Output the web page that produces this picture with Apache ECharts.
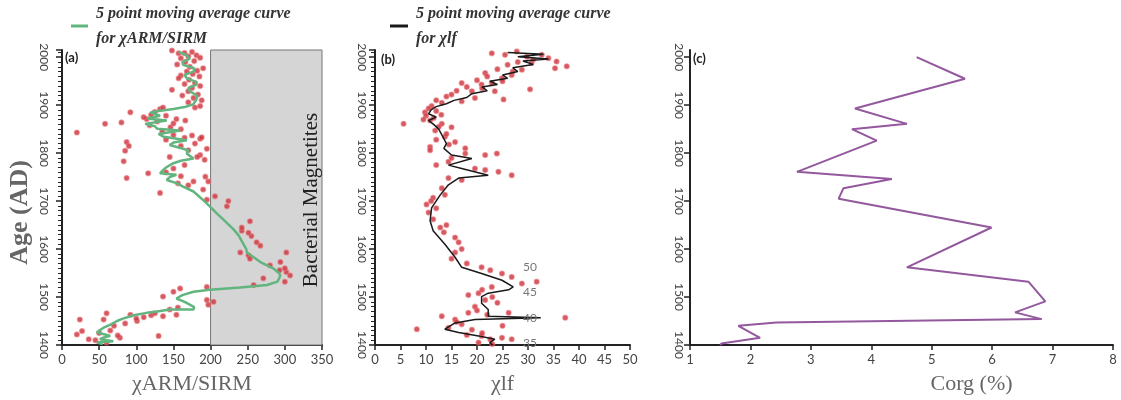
<!DOCTYPE html>
<html>
<head>
<meta charset="utf-8">
<script src="https://cdn.jsdelivr.net/npm/echarts@6/dist/echarts.min.js"></script>
<style>
  html, body { margin: 0; padding: 0; background: #fff; }
  #chart { width: 1121px; height: 400px; }
</style>
</head>
<body>
<div id="chart"></div>
<script>
// age axis ticks (AD)
const ageMin = 1400
const ageMax = 2015
const ageStep = 100

// (a) chiARM/SIRM measurements [value, age]
const armPoints = [
  [148,2014],[157,2008],[175,2011],[181,2004],[165,2009],[170,2002],[160,1998],[186,1999],[178,1992],[166,1990],
  [155,1985],[190,1977],[172,1980],[182,1972],[168,1970],[176,1965],[160,1962],[185,1960],[157,1956],[171,1953],
  [179,1946],[165,1944],[186,1940],[175,1936],[148,1932],[170,1929],[183,1922],[162,1920],[177,1915],[188,1910],
  [170,1906],[186,1898],[179,1895],
  [92,1885],[58,1861],[80,1864],[20,1843],[87,1823],[132,1892],[154,1871],[136,1895],[114,1871],[166,1868],
  [146,1854],[175,1837],[186,1830],[179,1820],[120,1880],[125,1886],[110,1875],[140,1878],[128,1866],[118,1858],
  [150,1862],[160,1850],[135,1845],[150,1838],[165,1832],[140,1828],[188,1833],[195,1809],[186,1796],[160,1815],
  [170,1806],[85,1805],[90,1815],
  [83,1783],[87,1748],[116,1758],[132,1717],[192,1786],[190,1724],[206,1710],[222,1689],[145,1792],[156,1737],
  [193,1751],[195,1703],[182,1792],[177,1741],[165,1775],[150,1768],[140,1760],[160,1752],[170,1733],[197,1741],
  [253,1658],[242,1638],[255,1627],[267,1607],[224,1700],[242,1645],[251,1634],[262,1614],[240,1593],[251,1587],
  [253,1580],[302,1593],[280,1566],[294,1573],[302,1552],[307,1545],[300,1532],[271,1539],[258,1525],[195,1521],
  [150,1511],[159,1518],[136,1501],[195,1494],[204,1490],[197,1484],[293,1556],[300,1560],[145,1474],[156,1478],
  [60,1466],[92,1463],[101,1450],[56,1453],[24,1453],[27,1429],[20,1422],[36,1412],[78,1415],[130,1419],
  [136,1460],[154,1463],[110,1458],[120,1462],[85,1445],[70,1440],[65,1430],[50,1425],[45,1410],[60,1405],
  [75,1420],[125,1466],[100,1455]
]

// (a) 5 point moving average [value, age]
const armCurve = [
  [157,2011],[168,2004],[172,1997],[162,1990],[163,1984],[178,1977],[177,1970],[165,1963],[168,1956],[180,1949],
  [181,1943],[170,1936],[172,1929],[182,1920],[181,1912],[177,1902],[165,1896],[150,1892],[130,1888],[119,1885],
  [132,1878],[115,1872],[141,1868],[112,1861],[125,1856],[128,1851],[159,1847],[130,1840],[137,1834],[168,1827],
  [150,1822],[145,1817],[145,1813],[170,1806],[168,1799],[177,1789],[160,1784],[150,1779],[140,1770],[135,1763],
  [132,1758],[154,1755],[145,1750],[141,1744],[155,1737],[163,1730],[177,1720],[188,1705],[199,1689],[208,1675],
  [217,1662],[225,1650],[231,1641],[238,1628],[243,1614],[248,1600],[249,1593],[258,1583],[267,1573],[276,1566],
  [285,1559],[292,1550],[294,1545],[292,1538],[290,1532],[276,1525],[240,1520],[199,1515],[177,1511],[162,1504],
  [154,1497],[165,1490],[172,1484],[178,1479],[177,1474],[145,1474],[128,1470],[114,1467],[100,1463],[92,1460],
  [82,1455],[74,1450],[66,1443],[56,1436],[50,1430],[47,1426],[58,1422],[65,1419],[55,1415],[51,1412],
  [69,1408],[47,1405],[55,1402]
]
const bacterialRange = [200, 350]

// (b) chi-lf measurements [value, age]
const chiPoints = [
  [22.9,2008],[25.5,2005],[27.8,2012],[29.8,2001],[32.7,2005],[34,1998],[35.6,1991],[37.6,1981],[35.3,1977],[30.7,1988],
  [28.8,1974],[26.8,1963],[30.4,1933],[24.9,1956],[22.9,1946],[20.9,1943],[19,1929],[17,1946],[19.6,1915],[17,1908],
  [15,1922],[13.1,1905],[11.1,1898],[9.8,1885],[5.6,1861],[10.8,1868],[13.1,1861],[11.8,1847],[15,1854],[13.7,1834],
  [15.7,1823],[10.8,1813],[17.7,1810],[23.5,1929],[25.2,1912],[21.6,1967],
  [31,1995],[28,1990],[26,1984],[24,1975],[27,1970],[22,1960],[25,1950],[20,1952],[18,1938],[21,1935],
  [16,1930],[14,1918],[12,1910],[10.5,1893],[12,1888],[10,1878],[11.5,1873],[13,1880],[9.5,1870],[12.5,1855],
  [14,1840],[12,1828],[14.5,1818],
  [10.8,1806],[17.7,1799],[21.6,1796],[23.9,1799],[14.4,1782],[19.6,1768],[21.6,1765],[24.2,1761],[26.8,1754],[14.4,1748],
  [17,1744],[13.1,1727],[13.7,1713],[11.4,1707],[10.1,1693],[10.5,1676],[11.4,1662],[12.8,1645],[15.7,1624],[16.4,1614],
  [15,1580],[15.7,1593],[20.9,1562],[22.6,1556],[24.9,1549],[26.8,1542],[28.8,1528],[31.7,1532],[22.9,1521],[20.3,1508],
  [18.3,1504],[21.6,1494],[19.6,1480],[18.3,1467],[15.7,1453],[13.1,1460],[26.2,1467],[37.3,1457],[17,1443],[14.4,1436],
  [8.2,1433],[19,1432],[20.9,1419],[22.6,1412],[24.9,1415],[20.3,1405],[26.8,1412],
  [15,1790],[12,1775],[11,1700],[12,1685],[14,1650],[13.5,1635],[17,1600],[18,1570],[21,1515],[23,1500],
  [24,1488],[20,1472],[22,1463],[16,1448],[25,1440],[21,1425],[18,1421],[23,1402]
]

// (b) 5 point moving average [value, age]
const chiCurve = [
  [26,2010],[33,2006],[28,2001],[34,1996],[29,1992],[31,1985],[27,1978],[28,1970],[25,1963],[26,1956],
  [22.5,1950],[24,1943],[21,1938],[22,1930],[19,1924],[18,1916],[15.5,1910],[14,1903],[12,1897],[11,1890],
  [10.5,1882],[12,1875],[10.5,1868],[11.5,1860],[12.5,1850],[13,1840],[13.5,1830],[14,1820],[13.5,1810],[13.7,1806],
  [15,1796],[19,1789],[14.4,1775],[17,1768],[22.2,1754],[16.4,1748],[14.4,1734],[12.8,1713],[11.1,1686],[10.8,1659],
  [11.4,1638],[13.7,1610],[15.7,1583],[17,1562],[20.9,1549],[24.9,1535],[27.1,1521],[26.2,1515],[22.2,1508],[20.9,1501],
  [20.9,1487],[22.2,1474],[22.2,1460],[32.5,1457],[32.5,1453],[19.6,1453],[15.7,1446],[13.7,1433],[16.4,1426],[20.3,1419],
  [23.5,1412],[22.5,1405],[23,1400]
]
const strayLabels = ['50', '45', '40', '35']

// (c) organic carbon [value %, age]
const corgCurve = [
  [4.75,2000],[5.55,1955],[3.73,1893],[4.59,1861],[3.68,1850],[4.09,1826],[2.77,1761],[4.34,1746],[3.54,1727],[3.46,1705],
  [5.99,1645],[4.59,1562],[6.60,1532],[6.88,1491],[6.38,1468],[6.82,1454],[2.43,1447],[1.80,1440],[2.16,1415],[1.52,1403],
  [1.5,1400]
]

const armName = '5 point moving average curve for χARM/SIRM'
const chiName = '5 point moving average curve for χlf'

let chart = echarts.init(document.getElementById('chart'))

const nameFont = { fontFamily: 'Liberation Serif', fontSize: 22, color: '#666' }

// 通用坐标轴
function xAx (idx, min, max, step, name, extra) {
  return Object.assign({
    gridIndex: idx, type: 'value', min: min, max: max, interval: step,
    name: name, nameLocation: 'middle', nameGap: 28,
    nameTextStyle: nameFont,
    axisLine: { show: true, lineStyle: { color: '#222', width: 2 } },
    axisTick: { show: true, length: 5, lineStyle: { color: '#222', width: 1.5 } },
    axisLabel: { color: '#444', fontSize: 13, fontFamily: 'Lato', margin: 8 },
    splitLine: { show: false }
  }, extra || {})
}
function yAx (idx, minor, margin, extra) {
  return Object.assign({
    gridIndex: idx, type: 'value', min: ageMin, max: ageMax, interval: ageStep,
    axisLine: { show: true, lineStyle: { color: '#222', width: 2 } },
    axisTick: { show: true, length: 6, lineStyle: { color: '#222', width: 1.5 } },
    minorTick: { show: minor, splitNumber: 10, length: 4, lineStyle: { color: '#222', width: 1 } },
    axisLabel: { rotate: -90, color: '#444', fontSize: 12, fontFamily: 'Lato', margin: margin,
      showMaxLabel: false, formatter: v => String(v) },
    splitLine: { show: false },
    minorSplitLine: { show: false }
  }, extra || {})
}

const dotStyle = { color: '#c9303a', borderColor: 'rgba(235,120,125,0.7)', borderWidth: 1.2 }
const legendText = { fontFamily: 'Liberation Serif', fontStyle: 'italic', fontWeight: 'bold', fontSize: 16,
  color: '#333', lineHeight: 25, padding: [10, 0, 0, 3] }

chart.setOption({
  backgroundColor: '#fff',
  animation: false,
  grid: [
    { left: 62, top: 50, width: 260, height: 299 },
    { left: 375, top: 50, width: 255, height: 299 },
    { left: 690, top: 50, width: 423, height: 299 }
  ],
  legend: [
    { data: [armName], left: 71, top: -4, padding: 0, icon: 'rect', itemWidth: 17, itemHeight: 3, itemGap: 0,
      formatter: () => '5 point moving average curve\nfor χARM/SIRM', textStyle: legendText },
    { data: [chiName], left: 390, top: -4, padding: 0, icon: 'rect', itemWidth: 18, itemHeight: 3, itemGap: 0,
      formatter: () => '5 point moving average curve\nfor χlf', textStyle: legendText }
  ],
  xAxis: [
    xAx(0, 0, 350, 50, 'χARM/SIRM'),
    xAx(1, 0, 50, 5, 'χlf'),
    xAx(2, 1, 8, 1, 'Corg (%)', { nameTextStyle: Object.assign({}, nameFont, { padding: [0, 0, 0, 140] }) })
  ],
  yAxis: [
    yAx(0, true, 12, { name: 'Age (AD)', nameLocation: 'middle', nameGap: 29,
      nameTextStyle: { fontFamily: 'Liberation Serif', fontSize: 26, fontWeight: 'bold', color: '#666', padding: [0, 30, 0, 0] } }),
    yAx(1, true, 7),
    yAx(2, false, 5)
  ],
  series: [
    {
      type: 'scatter', xAxisIndex: 0, yAxisIndex: 0, data: armPoints,
      symbolSize: 5, itemStyle: dotStyle, z: 3,
      markArea: {
        silent: true,
        itemStyle: { color: '#d5d5d5', borderColor: '#777', borderWidth: 1 },
        data: [[{ xAxis: bacterialRange[0], yAxis: ageMin }, { xAxis: bacterialRange[1], yAxis: ageMax }]]
      }
    },
    {
      name: armName, type: 'line', xAxisIndex: 0, yAxisIndex: 0, data: armCurve,
      showSymbol: false, lineStyle: { color: '#62b57f', width: 2.5 }, itemStyle: { color: '#62b57f' }, z: 4
    },
    {
      type: 'scatter', xAxisIndex: 1, yAxisIndex: 1, data: chiPoints,
      symbolSize: 5, itemStyle: dotStyle, z: 3
    },
    {
      name: chiName, type: 'line', xAxisIndex: 1, yAxisIndex: 1, data: chiCurve,
      showSymbol: false, lineStyle: { color: '#1a1a1a', width: 1.5 }, itemStyle: { color: '#1a1a1a' }, z: 4
    },
    {
      type: 'line', xAxisIndex: 2, yAxisIndex: 2, data: corgCurve,
      showSymbol: false, lineStyle: { color: '#93589d', width: 2 }, z: 4
    }
  ],
  graphic: [
    { type: 'text', left: 65, top: 51, z: 100, style: { text: '(a)', font: 'bold 13px Lato', fill: '#222' } },
    { type: 'text', left: 381, top: 53, z: 100, style: { text: '(b)', font: 'bold 13px Lato', fill: '#222' } },
    { type: 'text', left: 693, top: 52, z: 100, style: { text: '(c)', font: 'bold 13px Lato', fill: '#222' } },
    { type: 'text', x: 311, y: 200, rotation: Math.PI / 2, z: 100,
      style: { text: 'Bacterial Magnetites', font: '21px "Liberation Serif"', fill: '#222', align: 'center', verticalAlign: 'middle' } }
  ].concat(strayLabels.map((t, i) => ({
    type: 'text', x: 530, y: 267 + i * 25.5, z: 100,
    style: { text: t, font: '12px Lato', fill: '#777', align: 'center', verticalAlign: 'middle' }
  })))
})
</script>
</body>
</html>
